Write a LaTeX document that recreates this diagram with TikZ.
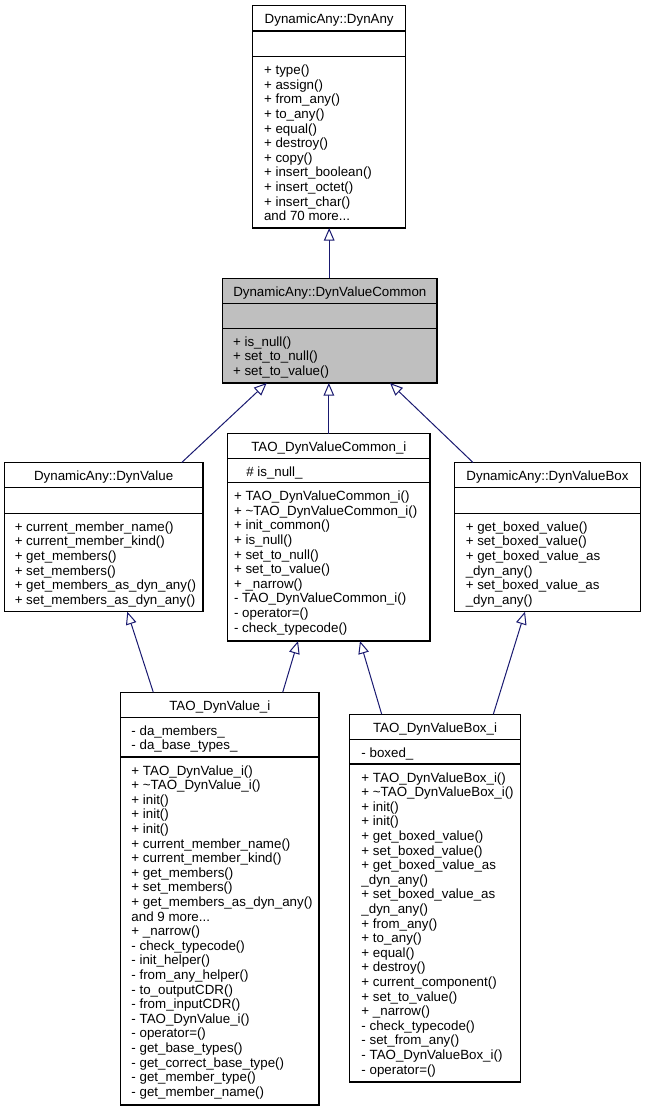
\documentclass[tikz,border=0pt]{standalone}
\usepackage{fontspec}
\setmainfont{Liberation Sans}
\usetikzlibrary{arrows.meta,calc}
\definecolor{edgeblue}{HTML}{191970}
\definecolor{hlgray}{HTML}{BFBFBF}
\newcommand\memfont{\fontsize{10}{10.95}\selectfont}
% #1 fill, #2 name, #3 L, #4 R, #5 T, #6 S1, #7 S2, #8 B
\newcommand\umlbox[8][white]{%
  \node[classframe, fill=#1, minimum width={(#4-#3)*0.75pt}, minimum height={(#8-#5)*0.75pt}, anchor=north west] (#2) at (#3,#5) {};
  \draw[classline] (#3,#6) -- (#4,#6);
  \draw[classline] (#3,#7) -- (#4,#7);
}
\tikzset{
  classframe/.style={draw=black, line width=0.8pt, inner sep=0pt, outer sep=0pt},
  classline/.style={draw=black, line width=0.8pt},
  titletext/.style={font=\memfont, inner sep=0pt, anchor=base},
  members/.style={font=\memfont, inner sep=0pt, anchor=base west},
  inherit/.style={draw=edgeblue, line width=0.75pt, -{Triangle[fill=white, length=9.5pt, width=8pt]}},
}
\begin{document}
\begin{tikzpicture}[x=0.75pt, y=-0.75pt]
\useasboundingbox (0,0) rectangle (645,1112);

% DynamicAny::DynAny
\umlbox{dynany}{252.7}{405.7}{5.7}{31}{56.7}{228}
\node[titletext] (dynany-title) at (329.2,23.7) {DynamicAny::DynAny};
\node[members] (dynany-m) at (263.8,74.7) {\begin{tabular}[t]{@{}l@{}}
+ type()\\
+ assign()\\
+ from\_any()\\
+ to\_any()\\
+ equal()\\
+ destroy()\\
+ copy()\\
+ insert\_boolean()\\
+ insert\_octet()\\
+ insert\_char()\\
and 70 more...
\end{tabular}};

% DynamicAny::DynValueCommon
\umlbox[hlgray]{dvc}{222.7}{437}{278.3}{303.3}{328.3}{383}
\node[titletext] (dvc-title) at (329.85,296.3) {DynamicAny::DynValueCommon};
\node[members] (dvc-m) at (232.8,346.3) {\begin{tabular}[t]{@{}l@{}}
+ is\_null()\\
+ set\_to\_null()\\
+ set\_to\_value()
\end{tabular}};

% DynamicAny::DynValue
\umlbox{dynvalue}{4.3}{203}{462.5}{487.7}{513.3}{611.7}
\node[titletext] (dynvalue-title) at (103.65,480.5) {DynamicAny::DynValue};
\node[members] (dynvalue-m) at (14.5,531.3) {\begin{tabular}[t]{@{}l@{}}
+ current\_member\_name()\\
+ current\_member\_kind()\\
+ get\_members()\\
+ set\_members()\\
+ get\_members\_as\_dyn\_any()\\
+ set\_members\_as\_dyn\_any()
\end{tabular}};

% TAO_DynValueCommon_i
\umlbox{tdvc}{227.7}{430}{433.5}{458.3}{482.7}{641}
\node[titletext] (tdvc-title) at (328.85,451.5) {TAO\_DynValueCommon\_i};
\node[members] (tdvc-a) at (246,476.3) {\# is\_null\_};
\node[members] (tdvc-m) at (233.8,500.7) {\begin{tabular}[t]{@{}l@{}}
+ TAO\_DynValueCommon\_i()\\
+ \textasciitilde TAO\_DynValueCommon\_i()\\
+ init\_common()\\
+ is\_null()\\
+ set\_to\_null()\\
+ set\_to\_value()\\
+ \_narrow()\\
- TAO\_DynValueCommon\_i()\\
- operator=()\\
- check\_typecode()
\end{tabular}};

% DynamicAny::DynValueBox
\umlbox{dvbox}{454.3}{640.7}{462.5}{487.7}{513.3}{611.7}
\node[titletext] (dvbox-title) at (547.5,480.5) {DynamicAny::DynValueBox};
\node[members] (dvbox-m) at (465.5,531.3) {\begin{tabular}[t]{@{}l@{}}
+ get\_boxed\_value()\\
+ set\_boxed\_value()\\
+ get\_boxed\_value\_as\\
\_dyn\_any()\\
+ set\_boxed\_value\_as\\
\_dyn\_any()
\end{tabular}};

% TAO_DynValue_i
\umlbox{tdv}{120.7}{319}{692.3}{717.3}{757}{1105}
\node[titletext] (tdv-title) at (219.85,710.3) {TAO\_DynValue\_i};
\node[members] (tdv-a) at (131.2,735.3) {\begin{tabular}[t]{@{}l@{}}
- da\_members\_\\
- da\_base\_types\_
\end{tabular}};
\node[members] (tdv-m) at (131.2,775) {\begin{tabular}[t]{@{}l@{}}
+ TAO\_DynValue\_i()\\
+ \textasciitilde TAO\_DynValue\_i()\\
+ init()\\
+ init()\\
+ init()\\
+ current\_member\_name()\\
+ current\_member\_kind()\\
+ get\_members()\\
+ set\_members()\\
+ get\_members\_as\_dyn\_any()\\
and 9 more...\\
+ \_narrow()\\
- check\_typecode()\\
- init\_helper()\\
- from\_any\_helper()\\
- to\_outputCDR()\\
- from\_inputCDR()\\
- TAO\_DynValue\_i()\\
- operator=()\\
- get\_base\_types()\\
- get\_correct\_base\_type()\\
- get\_member\_type()\\
- get\_member\_name()
\end{tabular}};

% TAO_DynValueBox_i
\umlbox{tdvb}{349.3}{520.7}{714.3}{739.5}{764}{1082}
\node[titletext] (tdvb-title) at (435,732.3) {TAO\_DynValueBox\_i};
\node[members] (tdvb-a) at (361.2,757.5) {- boxed\_};
\node[members] (tdvb-m) at (361.2,782) {\begin{tabular}[t]{@{}l@{}}
+ TAO\_DynValueBox\_i()\\
+ \textasciitilde TAO\_DynValueBox\_i()\\
+ init()\\
+ init()\\
+ get\_boxed\_value()\\
+ set\_boxed\_value()\\
+ get\_boxed\_value\_as\\
\_dyn\_any()\\
+ set\_boxed\_value\_as\\
\_dyn\_any()\\
+ from\_any()\\
+ to\_any()\\
+ equal()\\
+ destroy()\\
+ current\_component()\\
+ set\_to\_value()\\
+ \_narrow()\\
- check\_typecode()\\
- set\_from\_any()\\
- TAO\_DynValueBox\_i()\\
- operator=()
\end{tabular}};

% inheritance connectors
\draw[inherit] (dynany.south |- dvc.north) -- (dynany.south);
\draw[inherit] ($(dynvalue.north west)+(177.4,0)$) -- ($(dvc.south west)+(44,0)$);
\draw[inherit] (tdvc.north) -- (tdvc.north |- dvc.south);
\draw[inherit] ($(dvbox.north west)+(18.7,0)$) -- ($(dvc.south west)+(167.3,0)$);
\draw[inherit] ($(tdv.north west)+(32.6,0)$) -- ($(dynvalue.south west)+(123,0)$);
\draw[inherit] ($(tdv.north west)+(162,0)$) -- ($(tdvc.south west)+(70.3,0)$);
\draw[inherit] ($(tdvb.north west)+(32.4,0)$) -- ($(tdvc.south west)+(132.3,0)$);
\draw[inherit] ($(tdvb.north west)+(144,0)$) -- ($(dvbox.south west)+(70.7,0)$);
\end{tikzpicture}
\end{document}
